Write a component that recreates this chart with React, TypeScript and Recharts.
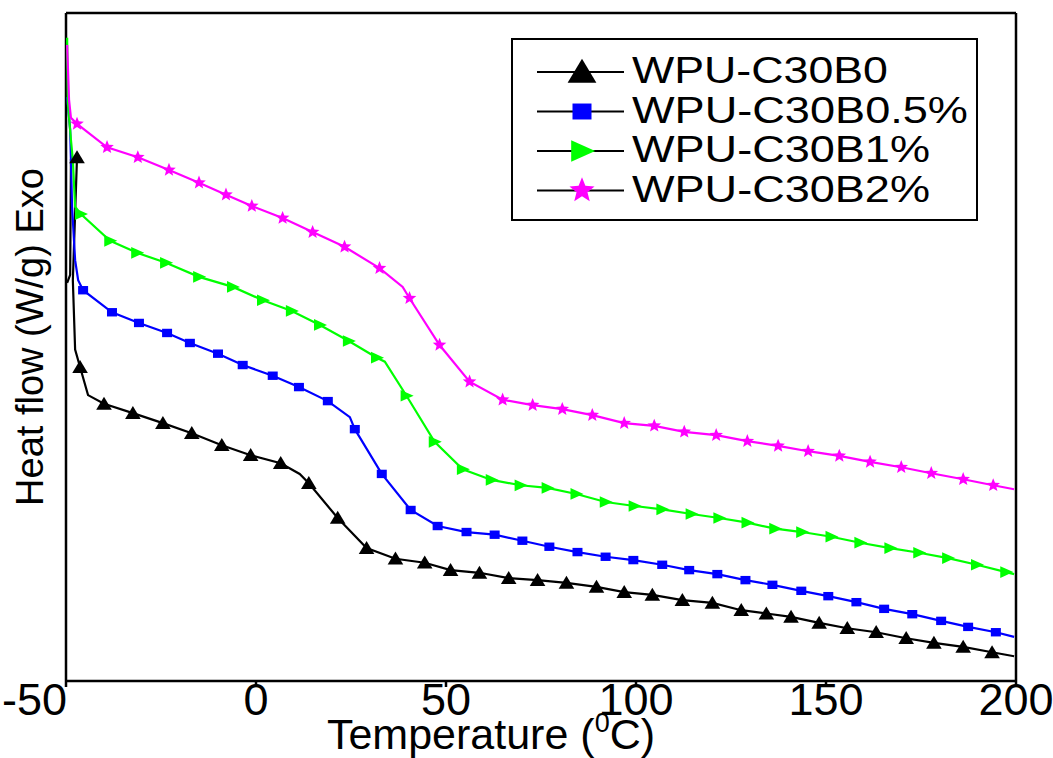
import React from 'react';
import { LineChart, Line, XAxis, YAxis, ReferenceLine } from 'recharts';

// temperature (°C) vs heat flow (arbitrary units)
const b0 = [
	{ t: -49.7, v: 5.96 }, { t: -48.9, v: 6.08 }, { t: -48.7, v: 7.8 }, { t: -47.1, v: 7.84 },
	{ t: -48.2, v: 6.0 }, { t: -47.6, v: 4.96 }, { t: -46.3, v: 4.7 }, { t: -44.2, v: 4.28 },
	{ t: -40.0, v: 4.15 }, { t: -32.4, v: 4.01 }, { t: -24.5, v: 3.86 }, { t: -16.9, v: 3.71 },
	{ t: -9.0, v: 3.53 }, { t: -1.4, v: 3.38 }, { t: 6.5, v: 3.26 }, { t: 11.5, v: 3.1 },
	{ t: 13.9, v: 2.96 }, { t: 21.5, v: 2.44 }, { t: 29.1, v: 1.99 }, { t: 36.7, v: 1.83 },
	{ t: 44.4, v: 1.77 }, { t: 51.2, v: 1.66 }, { t: 58.8, v: 1.62 }, { t: 66.5, v: 1.54 },
	{ t: 74.1, v: 1.51 }, { t: 81.7, v: 1.47 }, { t: 89.6, v: 1.41 }, { t: 96.9, v: 1.33 },
	{ t: 104.3, v: 1.29 }, { t: 112.2, v: 1.21 }, { t: 120.1, v: 1.17 }, { t: 127.7, v: 1.06 },
	{ t: 134.3, v: 1.01 }, { t: 140.8, v: 0.96 }, { t: 148.2, v: 0.87 }, { t: 155.6, v: 0.79 },
	{ t: 163.2, v: 0.73 }, { t: 171.1, v: 0.64 }, { t: 178.4, v: 0.57 }, { t: 186.1, v: 0.51 },
	{ t: 193.7, v: 0.43 }, { t: 199.5, v: 0.37 },
];

const b05 = [
	{ t: -49.7, v: 8.74 }, { t: -48.9, v: 8.25 }, { t: -48.4, v: 7.1 }, { t: -47.6, v: 6.3 },
	{ t: -46.8, v: 6.0 }, { t: -45.5, v: 5.85 }, { t: -37.9, v: 5.52 }, { t: -30.8, v: 5.36 },
	{ t: -23.4, v: 5.21 }, { t: -17.4, v: 5.06 }, { t: -10.0, v: 4.9 }, { t: -3.5, v: 4.73 },
	{ t: 4.4, v: 4.57 }, { t: 11.3, v: 4.4 }, { t: 18.9, v: 4.19 }, { t: 24.7, v: 3.95 },
	{ t: 26.0, v: 3.77 }, { t: 33.1, v: 3.1 }, { t: 40.7, v: 2.56 }, { t: 47.8, v: 2.32 },
	{ t: 55.4, v: 2.23 }, { t: 62.8, v: 2.19 }, { t: 70.1, v: 2.1 }, { t: 77.2, v: 2.01 },
	{ t: 84.6, v: 1.93 }, { t: 92.0, v: 1.86 }, { t: 99.3, v: 1.81 }, { t: 106.9, v: 1.74 },
	{ t: 114.0, v: 1.66 }, { t: 121.4, v: 1.6 }, { t: 128.8, v: 1.51 }, { t: 135.9, v: 1.44 },
	{ t: 143.5, v: 1.35 }, { t: 150.6, v: 1.27 }, { t: 158.0, v: 1.18 }, { t: 165.3, v: 1.08 },
	{ t: 172.7, v: 1.0 }, { t: 180.3, v: 0.9 }, { t: 187.4, v: 0.81 }, { t: 194.7, v: 0.73 },
	{ t: 199.5, v: 0.66 },
];

const b1 = [
	{ t: -49.7, v: 9.63 }, { t: -49.5, v: 8.65 }, { t: -48.7, v: 8.1 }, { t: -48.2, v: 7.8 },
	{ t: -47.6, v: 7.1 }, { t: -46.1, v: 6.99 }, { t: -38.4, v: 6.59 }, { t: -31.3, v: 6.41 },
	{ t: -23.7, v: 6.26 }, { t: -15.0, v: 6.05 }, { t: -6.1, v: 5.9 }, { t: 1.8, v: 5.7 },
	{ t: 9.4, v: 5.54 }, { t: 16.8, v: 5.33 }, { t: 24.4, v: 5.09 }, { t: 31.8, v: 4.84 },
	{ t: 33.9, v: 4.78 }, { t: 39.6, v: 4.27 }, { t: 47.0, v: 3.58 }, { t: 54.4, v: 3.17 },
	{ t: 62.0, v: 3.01 }, { t: 69.6, v: 2.93 }, { t: 76.7, v: 2.89 }, { t: 84.3, v: 2.8 },
	{ t: 92.0, v: 2.68 }, { t: 99.6, v: 2.62 }, { t: 106.9, v: 2.57 }, { t: 114.6, v: 2.5 },
	{ t: 121.9, v: 2.44 }, { t: 129.3, v: 2.37 }, { t: 136.6, v: 2.28 }, { t: 143.7, v: 2.23 },
	{ t: 151.4, v: 2.16 }, { t: 159.0, v: 2.07 }, { t: 166.9, v: 1.99 }, { t: 174.5, v: 1.92 },
	{ t: 182.1, v: 1.84 }, { t: 189.7, v: 1.74 }, { t: 197.4, v: 1.63 }, { t: 199.5, v: 1.6 },
];

const b2 = [
	{ t: -49.7, v: 9.52 }, { t: -49.2, v: 8.7 }, { t: -48.7, v: 8.43 }, { t: -47.1, v: 8.34 },
	{ t: -39.2, v: 7.99 }, { t: -31.1, v: 7.84 }, { t: -22.9, v: 7.65 }, { t: -15.0, v: 7.46 },
	{ t: -7.9, v: 7.28 }, { t: -1.1, v: 7.11 }, { t: 7.0, v: 6.93 }, { t: 14.9, v: 6.72 },
	{ t: 23.3, v: 6.5 }, { t: 32.5, v: 6.18 }, { t: 38.6, v: 5.9 }, { t: 40.4, v: 5.73 },
	{ t: 48.3, v: 5.03 }, { t: 56.2, v: 4.48 }, { t: 64.9, v: 4.21 }, { t: 72.8, v: 4.13 },
	{ t: 80.6, v: 4.07 }, { t: 88.5, v: 3.98 }, { t: 96.9, v: 3.86 }, { t: 104.8, v: 3.82 },
	{ t: 112.7, v: 3.73 }, { t: 121.1, v: 3.68 }, { t: 129.3, v: 3.59 }, { t: 137.4, v: 3.52 },
	{ t: 145.3, v: 3.44 }, { t: 153.5, v: 3.37 }, { t: 161.6, v: 3.28 }, { t: 169.8, v: 3.2 },
	{ t: 177.7, v: 3.11 }, { t: 186.1, v: 3.02 }, { t: 194.0, v: 2.93 }, { t: 199.5, v: 2.87 },
];

const xTicks = [-50, 0, 50, 100, 150, 200];

// indices of points that carry no symbol (onset transient, bends, end points)
const b0Plain = [0, 1, 2, 4, 5, 7, 15, 41];
const b05Plain = [0, 1, 2, 3, 4, 15, 40];
const b1Plain = [0, 1, 2, 3, 4, 16, 39];
const b2Plain = [0, 1, 2, 14, 35];

const FONT = '"Liberation Sans", Arial, sans-serif';

function marker(kind: string, cx: number, cy: number, s: number, color: string) {
	if (kind === 'tri') {
		return <polygon points={`${cx},${cy - s * 0.55} ${cx + s * 0.6},${cy + s * 0.45} ${cx - s * 0.6},${cy + s * 0.45}`} fill={color} />;
	}
	if (kind === 'sq') {
		return <rect x={cx - s * 0.5} y={cy - s * 0.42} width={s} height={s * 0.84} fill={color} />;
	}
	if (kind === 'right') {
		return <polygon points={`${cx + s * 0.55},${cy} ${cx - s * 0.45},${cy - s * 0.45} ${cx - s * 0.45},${cy + s * 0.45}`} fill={color} />;
	}
	const pts: string[] = [];
	for (let i = 0; i < 10; i++) {
		const r = i % 2 === 0 ? s * 0.55 : s * 0.24;
		const a = -Math.PI / 2 + (i * Math.PI) / 5;
		pts.push(`${cx + r * Math.cos(a)},${cy + r * Math.sin(a)}`);
	}
	return <polygon points={pts.join(' ')} fill={color} />;
}

function dotFor(kind: string, color: string, plain: number[], name: string) {
	return (p: any) => {
		const k = `${name}-${p.index}`;
		if (plain.includes(p.index) || p.cx == null) return <g key={k} />;
		return <g key={k}>{marker(kind, p.cx, p.cy, kind === 'sq' ? 10 : 13, color)}</g>;
	};
}

// the first label sits left of its tick, flush with the picture edge
const XTick = ({ x, payload }: any) => {
	const first = payload.value === -50;
	return (
		<text x={first ? x - 64 : x} y={715} textAnchor={first ? 'start' : 'middle'} fontSize={45} fontFamily={FONT} fill="#000">
			{payload.value}
		</text>
	);
};

const legendRows = [
	{ name: 'WPU-C30B0', kind: 'tri', color: '#000000', w: 256 },
	{ name: 'WPU-C30B0.5%', kind: 'sq', color: '#0000ff', w: 336 },
	{ name: 'WPU-C30B1%', kind: 'right', color: '#00ff00', w: 298 },
	{ name: 'WPU-C30B2%', kind: 'star', color: '#ff00ff', w: 298 },
];

export default function App() {
	return (
		<div style={{ position: 'absolute', left: 0, top: 0, width: 1053, height: 758, background: '#fff' }}>
			<LineChart width={1053} height={758} data={b0} margin={{ top: 13, right: 37, left: 66, bottom: 17 }}>
				<XAxis
					dataKey="t"
					type="number"
					domain={[-50, 200]}
					ticks={xTicks}
					allowDataOverflow
					height={60}
					tickSize={6}
					tick={<XTick />}
					axisLine={{ stroke: '#000', strokeWidth: 2.5 }}
					tickLine={{ stroke: '#000', strokeWidth: 2.5 }}
				/>
				<YAxis hide type="number" domain={[0, 10]} allowDataOverflow />
				<ReferenceLine x={-50} stroke="#000" strokeWidth={2.5} ifOverflow="visible" />
				<ReferenceLine x={200} stroke="#000" strokeWidth={2.5} ifOverflow="visible" />
				<ReferenceLine y={10} stroke="#000" strokeWidth={2.5} ifOverflow="visible" />
				<Line data={b0} dataKey="v" stroke="#000000" strokeWidth={2.2} isAnimationActive={false} dot={dotFor('tri', '#000000', b0Plain, 'b0')} activeDot={false} />
				<Line data={b05} dataKey="v" stroke="#0000ff" strokeWidth={2.2} isAnimationActive={false} dot={dotFor('sq', '#0000ff', b05Plain, 'b05')} activeDot={false} />
				<Line data={b1} dataKey="v" stroke="#00ff00" strokeWidth={2.2} isAnimationActive={false} dot={dotFor('right', '#00ff00', b1Plain, 'b1')} activeDot={false} />
				<Line data={b2} dataKey="v" stroke="#ff00ff" strokeWidth={2.2} isAnimationActive={false} dot={dotFor('star', '#ff00ff', b2Plain, 'b2')} activeDot={false} />
			</LineChart>
			<svg width={1053} height={758} style={{ position: 'absolute', left: 0, top: 0, pointerEvents: 'none' }}>
				<text transform="translate(43,337) rotate(-90)" textAnchor="middle" fontSize={38} fontFamily={FONT} fill="#000">
					Heat flow (W/g) Exo
				</text>
				<text x={491} y={749} textAnchor="middle" fontSize={43} fontFamily={FONT} fill="#000">
					Temperature (<tspan fontSize={27} dy={-17}>0</tspan><tspan dy={17}>C)</tspan>
				</text>
				<rect x={512} y={39} width={465} height={181} fill="#fff" stroke="#000" strokeWidth={2} />
				{legendRows.map((r, i) => {
					const ly = 72 + i * 39.5;
					return (
						<g key={r.name}>
							<line x1={537} x2={624} y1={ly} y2={ly} stroke="#000" strokeWidth={2} />
							{marker(r.kind, 582, ly, r.kind === 'sq' ? 19 : 24, r.color)}
							<text x={632} y={ly + 11} fontSize={36} fontFamily={FONT} fill="#000" textLength={r.w} lengthAdjust="spacingAndGlyphs">
								{r.name}
							</text>
						</g>
					);
				})}
			</svg>
		</div>
	);
}
